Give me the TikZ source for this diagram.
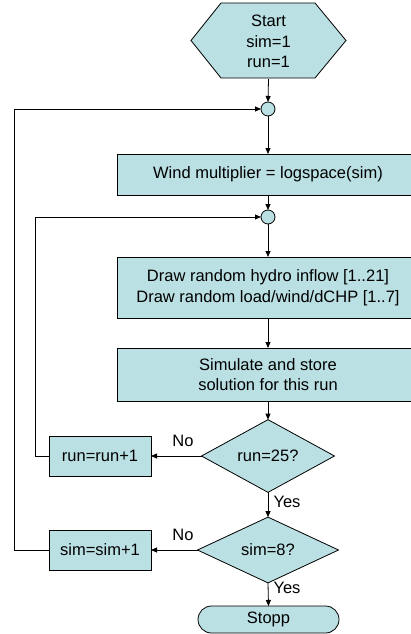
\documentclass[tikz,border=0pt]{standalone}
\usepackage{fontspec}
\setmainfont{Liberation Sans}
\usetikzlibrary{shapes.geometric,arrows.meta}
\definecolor{boxfill}{RGB}{187,224,227}
\begin{document}
\begin{tikzpicture}[x=1pt,y=-1pt,
  font=\fontsize{16.5}{20.5}\selectfont,
  every node/.style={inner sep=0pt, outer sep=0pt},
  procbox/.style={draw=black, fill=boxfill, line width=0.8pt, align=center},
  junction/.style={circle, draw=black, fill=boxfill, line width=0.8pt, minimum size=14pt},
  decision/.style={diamond, draw=black, fill=boxfill, line width=0.8pt},
  flow/.style={line width=0.8pt, -{Triangle[length=6pt,width=5pt]}},
  ]
\useasboundingbox (0,0) rectangle (411,634);
\clip (0,0) rectangle (411,634);

% start terminal (hexagon)
\draw[fill=boxfill, line width=0.8pt]
  (221,3) -- (315,3) -- (346,40.5) -- (315,78) -- (221,78) -- (191,40.5) -- cycle;
\node (start) [minimum width=155pt, minimum height=75pt, align=center] at (268.5,41.5)
  {Start\\sim=1\\run=1};

% main column
\node[junction] (j1) at (268,109) {};
\node[procbox, minimum width=302pt, minimum height=41pt] (wind) at (268,174.5)
  {Wind multiplier = logspace(sim)};
\node[junction] (j2) at (268,217) {};
\node[procbox, minimum width=302pt, minimum height=61pt] (draw) at (268,287.5)
  {Draw random hydro inflow [1..21]\\Draw random load/wind/dCHP [1..7]};
\node[procbox, minimum width=302pt, minimum height=53pt] (simul) at (268,374.5)
  {Simulate and store\\solution for this run};
\node[decision, minimum width=133pt, minimum height=60pt] (d1) at (268,456) {run=25?};
\node[decision, minimum width=141pt, minimum height=59pt] (d2) at (268,550) {sim=8?};
\node[procbox, rounded corners=13.5pt, minimum width=141pt, minimum height=27pt] (stop)
  at (268.5,619.5) {Stopp};

% counters
\node[procbox, minimum width=102pt, minimum height=40pt] (runinc) at (100,456) {run=run+1};
\node[procbox, minimum width=102pt, minimum height=40pt] (siminc) at (100,550) {sim=sim+1};

% connectors
\draw[flow] (start.south) -- (j1.north);
\draw[flow] (j1.south) -- (wind.north);
\draw[flow] (wind.south) -- (j2.north);
\draw[flow] (j2.south) -- (draw.north);
\draw[flow] (draw.south) -- (simul.north);
\draw[flow] (simul.south) -- (d1.north);
\draw[flow] (d1.south) -- (d2.north);
\draw[flow] (d2.south) -- (stop.north);
\draw[flow] (d1.west) -- (runinc.east);
\draw[flow] (d2.west) -- (siminc.east);
\draw[flow] (runinc.west) -- ++(-14,0) |- (j2.west);
\draw[flow] (siminc.west) -- ++(-35,0) |- (j1.west);

% branch labels
\node (no1) at (183,441) {No};
\node (yes1) at (287,502) {Yes};
\node (no2) at (183,535) {No};
\node (yes2) at (287,588) {Yes};
\end{tikzpicture}
\end{document}
